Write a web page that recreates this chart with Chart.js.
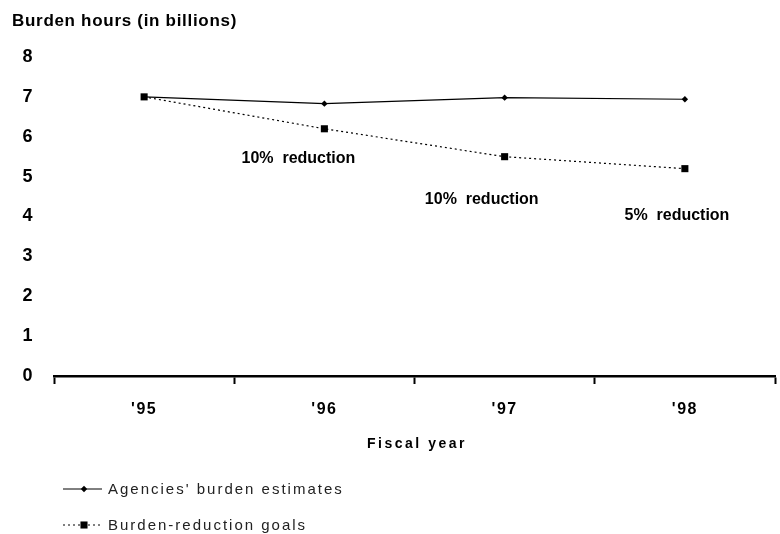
<!DOCTYPE html>
<html>
<head>
<meta charset="utf-8">
<script src="https://cdn.jsdelivr.net/npm/chart.js@4"></script>
<style>
  html, body { margin: 0; padding: 0; background: #fff; }
  canvas { display: block; }
</style>
</head>
<body>
<canvas id="burdenChart" width="780" height="534"></canvas>
<script>
const FONT = "'Liberation Sans', Arial, sans-serif";

const YEARS = ["'95", "'96", "'97", "'98"];
const AGENCY_ESTIMATES = [7.0, 6.83, 6.98, 6.94];
const REDUCTION_GOALS = [7.0, 6.2, 5.5, 5.2];
const Y_TICKS = [0, 1, 2, 3, 4, 5, 6, 7, 8];

// notes between the goal points: [text, category position, hours]
const NOTES = [
  ["10%  reduction", 0.856, 5.44],
  ["10%  reduction", 1.873, 4.43],
  ["5%  reduction", 2.956, 4.03]
];

const SERIES_NAMES = ["Agencies' burden estimates", "Burden-reduction goals"];

function drawText(ctx, text, x, y, font, spacing, align) {
  ctx.save();
  ctx.font = font;
  ctx.letterSpacing = spacing;
  ctx.fillStyle = "#000";
  ctx.textAlign = align;
  ctx.textBaseline = "middle";
  ctx.fillText(text, x, y);
  ctx.restore();
}

const extras = {
  id: "extras",
  beforeDraw(chart) {
    // spaced-out year labels
    chart.ctx.letterSpacing = "1.5px";
  },
  afterDraw(chart) {
    const { ctx, scales } = chart;
    ctx.letterSpacing = "0px";

    drawText(ctx, "Burden hours (in billions)", 12, 21, `bold 17px ${FONT}`, "0.7px", "left");
    drawText(ctx, "Fiscal year", 417, 444, `bold 14px ${FONT}`, "2.5px", "center");

    NOTES.forEach(([text, at, value]) => {
      drawText(ctx, text, scales.x.getPixelForValue(at), scales.y.getPixelForValue(value),
        `bold 16px ${FONT}`, "0px", "center");
    });

    // legend rows
    chart.data.datasets.forEach((ds, i) => {
      const y = 489 + i * 36;
      ctx.save();
      ctx.strokeStyle = "#000";
      ctx.lineWidth = 1;
      ctx.setLineDash(ds.borderDash || []);
      ctx.beginPath();
      ctx.moveTo(63, y);
      ctx.lineTo(102, y);
      ctx.stroke();
      ctx.setLineDash([]);
      ctx.fillStyle = "#000";
      Chart.helpers.drawPoint(ctx, {
        pointStyle: ds.pointStyle,
        radius: ds.pointRadius,
        borderWidth: 0
      }, 84, y);
      ctx.restore();
      ctx.save();
      ctx.font = `15px ${FONT}`;
      ctx.letterSpacing = "2px";
      ctx.fillStyle = "#222";
      ctx.textBaseline = "middle";
      ctx.fillText(ds.label, 108, y + 1);
      ctx.restore();
    });
  }
};

new Chart(document.getElementById("burdenChart"), {
  type: "line",
  data: {
    labels: YEARS,
    datasets: [
      {
        label: SERIES_NAMES[0],
        data: AGENCY_ESTIMATES,
        borderColor: "#000",
        backgroundColor: "#000",
        borderWidth: 1.2,
        pointStyle: "rectRot",
        pointRadius: 3.2,
        pointBorderWidth: 0,
        tension: 0,
        order: 2
      },
      {
        label: SERIES_NAMES[1],
        data: REDUCTION_GOALS,
        borderColor: "#000",
        backgroundColor: "#000",
        borderWidth: 1.2,
        borderDash: [2, 3],
        pointStyle: "rect",
        pointRadius: 5,
        pointBorderWidth: 0,
        tension: 0,
        order: 1
      }
    ]
  },
  options: {
    responsive: false,
    animation: false,
    events: [],
    layout: { padding: { top: 57, right: 1, bottom: 0, left: 0 } },
    plugins: {
      legend: { display: false },
      tooltip: { enabled: false }
    },
    scales: {
      x: {
        offset: true,
        grid: {
          offset: true,
          drawOnChartArea: false,
          tickLength: 8,
          tickWidth: 2,
          color: "#000"
        },
        border: { color: "#000", width: 2.5 },
        ticks: {
          color: "#000",
          padding: 16,
          font: { family: FONT, size: 16, weight: "bold" }
        },
        afterFit(scale) { scale.height = 158; }
      },
      y: {
        min: Y_TICKS[0],
        max: Y_TICKS[Y_TICKS.length - 1],
        afterBuildTicks(scale) {
          scale.ticks = Y_TICKS.map((v) => ({ value: v }));
        },
        grid: { display: false },
        border: { display: false },
        ticks: {
          color: "#000",
          padding: 12,
          font: { family: FONT, size: 18, weight: "bold" }
        },
        afterFit(scale) { scale.width = 54; }
      }
    }
  },
  plugins: [extras]
});
</script>
</body>
</html>
